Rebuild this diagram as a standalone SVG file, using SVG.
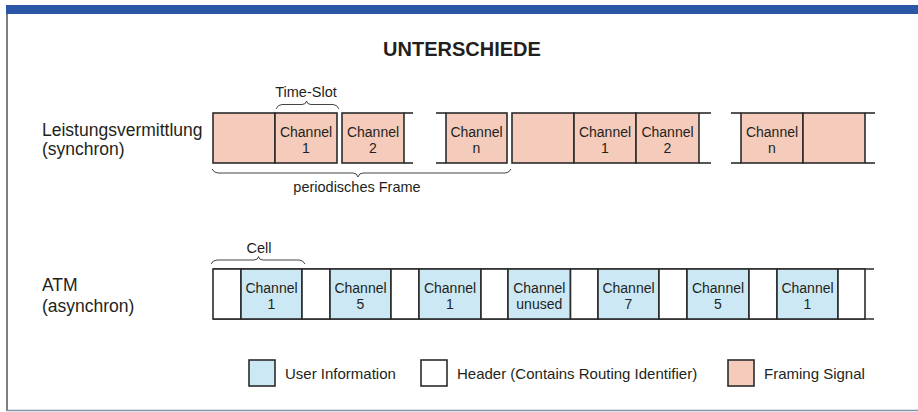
<svg xmlns="http://www.w3.org/2000/svg" width="918" height="412" viewBox="0 0 918 412">
<defs>
<style>
text{font-family:"Liberation Sans",Arial,sans-serif;fill:#231f20}
.title{font-size:20px;font-weight:bold;text-anchor:middle}
.lbl{font-size:17.5px}
.ch{font-size:14px;text-anchor:middle}
.sm{font-size:14.5px;text-anchor:middle}
.leg{font-size:15px}
.fr{fill:#f5cbbb;stroke:#2b2b2b;stroke-width:1.6}
.us{fill:#cbe8f4;stroke:#2b2b2b;stroke-width:1.6}
.hd{fill:#ffffff;stroke:#2b2b2b;stroke-width:1.6}
.ln{stroke:#2b2b2b;stroke-width:1.6;fill:none}
.br{stroke:#444;stroke-width:1;fill:none}
</style>
</defs>
<rect x="0" y="0" width="918" height="412" fill="#ffffff"/>
<rect x="6" y="5" width="912" height="9" fill="#2c57a7"/>
<line x1="7" y1="14" x2="7" y2="411" stroke="#555" stroke-width="1.5"/>
<line x1="7" y1="410.5" x2="918" y2="410.5" stroke="#8193ab" stroke-width="1.5"/>

<text class="title" x="462" y="56">UNTERSCHIEDE</text>

<g id="label-sync">
<text class="lbl" x="42" y="136">Leistungsvermittlung</text>
<text class="lbl" x="42" y="155">(synchron)</text>
</g>
<g id="label-atm">
<text class="lbl" x="42" y="291">ATM</text>
<text class="lbl" x="42" y="311.5">(asynchron)</text>
</g>

<g id="sync-frame-1">
<rect class="fr" x="213" y="113" width="62" height="50"/>
<rect class="fr" x="275" y="113" width="62" height="50"/>
<text class="ch" x="306" y="136.5">Channel</text><text class="ch" x="306" y="152.5">1</text>
<rect class="fr" x="342" y="113" width="62" height="50"/>
<text class="ch" x="373" y="136.5">Channel</text><text class="ch" x="373" y="152.5">2</text>
<line class="ln" x1="404" y1="113" x2="413" y2="113"/>
<line class="ln" x1="404" y1="163" x2="413" y2="163"/>
<line class="ln" x1="436" y1="113" x2="446" y2="113"/>
<line class="ln" x1="436" y1="163" x2="446" y2="163"/>
<rect class="fr" x="446" y="113" width="61" height="50"/>
<text class="ch" x="476.5" y="136.5">Channel</text><text class="ch" x="476.5" y="152.5">n</text>
</g>

<g id="sync-frame-2">
<rect class="fr" x="512" y="113" width="62" height="50"/>
<rect class="fr" x="574" y="113" width="62" height="50"/>
<text class="ch" x="605" y="136.5">Channel</text><text class="ch" x="605" y="152.5">1</text>
<rect class="fr" x="636" y="113" width="63" height="50"/>
<text class="ch" x="667.5" y="136.5">Channel</text><text class="ch" x="667.5" y="152.5">2</text>
<line class="ln" x1="699" y1="113" x2="711" y2="113"/>
<line class="ln" x1="699" y1="163" x2="711" y2="163"/>
<line class="ln" x1="731" y1="113" x2="741" y2="113"/>
<line class="ln" x1="731" y1="163" x2="741" y2="163"/>
<rect class="fr" x="741" y="113" width="62" height="50"/>
<text class="ch" x="772" y="136.5">Channel</text><text class="ch" x="772" y="152.5">n</text>
<rect class="fr" x="803" y="113" width="62" height="50"/>
<line class="ln" x1="865" y1="113" x2="875" y2="113"/>
<line class="ln" x1="865" y1="163" x2="875" y2="163"/>
</g>

<g id="brace-timeslot">
<path class="br" d="M276,109 Q278,104.5 282,104.5 L302,104.5 Q306,104.5 306.5,101 Q307,104.5 311,104.5 L333,104.5 Q337,104.5 339,109"/>
<text class="sm" x="306" y="97">Time-Slot</text>
</g>
<g id="brace-frame">
<path class="br" d="M212,169 Q214,173 218,173 L353,173 Q357,173 358,177 Q359,173 363,173 L505,173 Q509,173 511,169"/>
<text class="sm" x="357" y="192">periodisches Frame</text>
</g>

<g id="atm-cells">
<line class="ln" x1="213" y1="269" x2="874" y2="269"/>
<line class="ln" x1="213" y1="319" x2="874" y2="319"/>
<rect class="hd" x="213" y="269" width="28" height="50"/>
<rect class="us" x="241" y="269" width="61" height="50"/>
<text class="ch" x="271.5" y="292.5">Channel</text><text class="ch" x="271.5" y="308.5">1</text>
<rect class="hd" x="302" y="269" width="28" height="50"/>
<rect class="us" x="330" y="269" width="61" height="50"/>
<text class="ch" x="360.5" y="292.5">Channel</text><text class="ch" x="360.5" y="308.5">5</text>
<rect class="hd" x="391" y="269" width="28" height="50"/>
<rect class="us" x="419" y="269" width="62" height="50"/>
<text class="ch" x="450" y="292.5">Channel</text><text class="ch" x="450" y="308.5">1</text>
<rect class="hd" x="481" y="269" width="27" height="50"/>
<rect class="us" x="508" y="269" width="62.5" height="50"/>
<text class="ch" x="539.3" y="292.5">Channel</text><text class="ch" x="539.3" y="308.5">unused</text>
<rect class="hd" x="570.5" y="269" width="27.5" height="50"/>
<rect class="us" x="598" y="269" width="61" height="50"/>
<text class="ch" x="628.5" y="292.5">Channel</text><text class="ch" x="628.5" y="308.5">7</text>
<rect class="hd" x="659" y="269" width="28" height="50"/>
<rect class="us" x="687" y="269" width="62" height="50"/>
<text class="ch" x="718" y="292.5">Channel</text><text class="ch" x="718" y="308.5">5</text>
<rect class="hd" x="749" y="269" width="28" height="50"/>
<rect class="us" x="777" y="269" width="61" height="50"/>
<text class="ch" x="807.5" y="292.5">Channel</text><text class="ch" x="807.5" y="308.5">1</text>
<rect class="hd" x="838" y="269" width="27" height="50"/>
</g>

<g id="brace-cell">
<path class="br" d="M211,264 Q213,260 217,260 L254,260 Q258,260 258.5,256.5 Q259,260 263,260 L299,260 Q303,260 305,264"/>
<text class="sm" x="259" y="253">Cell</text>
</g>

<g id="legend">
<rect class="us" x="249" y="360" width="26" height="26"/>
<text class="leg" x="285" y="379">User Information</text>
<rect class="hd" x="421" y="360" width="26" height="26"/>
<text class="leg" x="457" y="379">Header (Contains Routing Identifier)</text>
<rect class="fr" x="728" y="360" width="26" height="26"/>
<text class="leg" x="764" y="379">Framing Signal</text>
</g>
</svg>
